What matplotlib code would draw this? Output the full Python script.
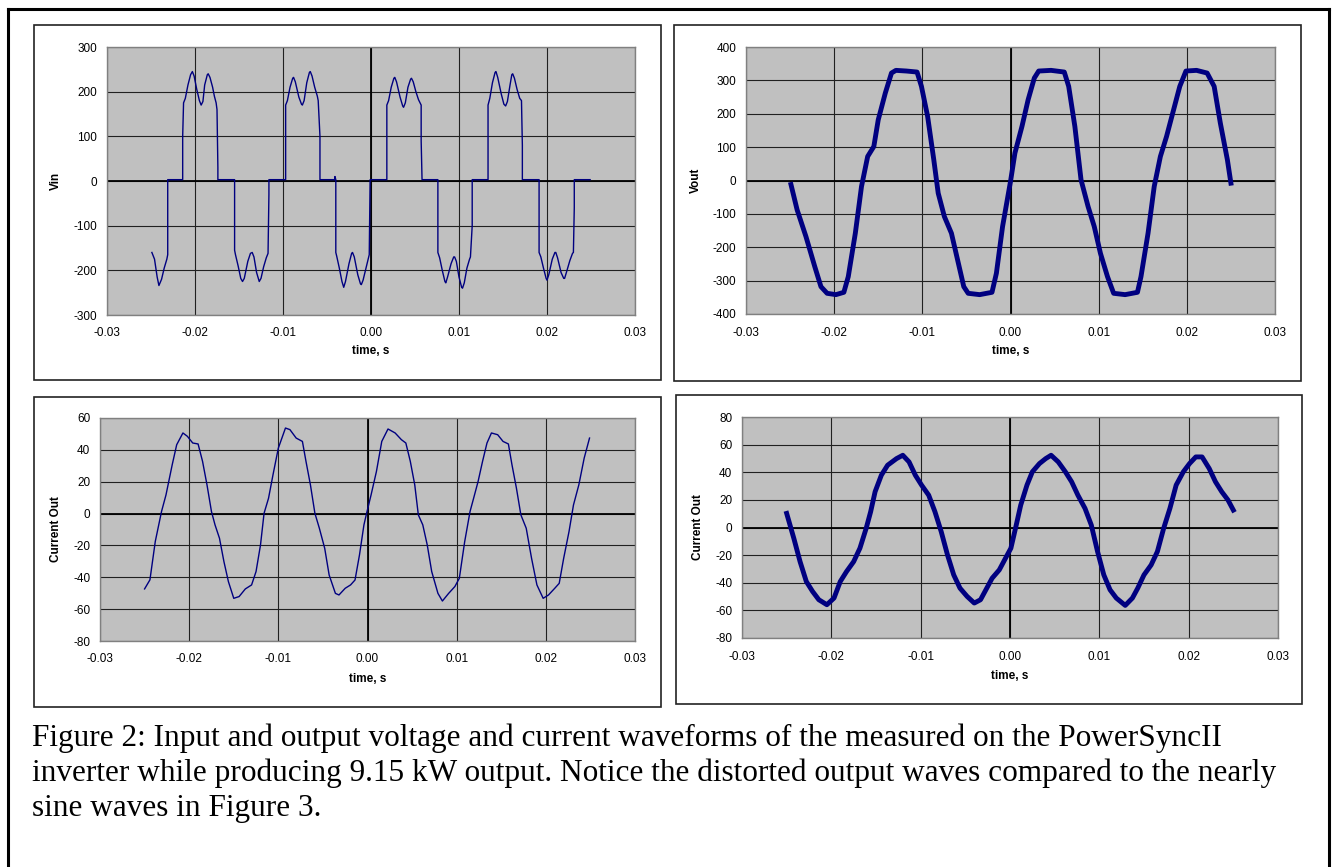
import numpy as np
import matplotlib.pyplot as plt
from matplotlib.patches import Rectangle
from matplotlib.lines import Line2D

plt.rcParams['font.family'] = ['Liberation Sans', 'DejaVu Sans']
plt.rcParams['axes.unicode_minus'] = False

# ---- data (time in s) ----
vin = np.array([
    (-0.0249, -160), (-0.0246, -175), (-0.0243, -215), (-0.0241, -234), (-0.0238, -220),
    (-0.0235, -195), (-0.0232, -175), (-0.0231, -165), (-0.0231, 3), (-0.0214, 3),
    (-0.0214, 100), (-0.0213, 175), (-0.0211, 185), (-0.0208, 215), (-0.0205, 238),
    (-0.0203, 245), (-0.0201, 235), (-0.0198, 205), (-0.0195, 180), (-0.0193, 170),
    (-0.0191, 178), (-0.0189, 215), (-0.0186, 238), (-0.0185, 240), (-0.0183, 232),
    (-0.0180, 210), (-0.0178, 190), (-0.0176, 175), (-0.0175, 160), (-0.0174, 30),
    (-0.0174, 3), (-0.0155, 3),
    (-0.0155, -155), (-0.0154, -165), (-0.0151, -190), (-0.0148, -218), (-0.0146, -225),
    (-0.0144, -218), (-0.0140, -180), (-0.0137, -162), (-0.0135, -160), (-0.0133, -170),
    (-0.0130, -205), (-0.0127, -225), (-0.0125, -218), (-0.0122, -192), (-0.0119, -172),
    (-0.0117, -162), (-0.0116, -30), (-0.0116, 3), (-0.0097, 3),
    (-0.0097, 170), (-0.0095, 180), (-0.0092, 210), (-0.0089, 230), (-0.0088, 232),
    (-0.0086, 222), (-0.0082, 188), (-0.0079, 172), (-0.0078, 170), (-0.0076, 180),
    (-0.0073, 220), (-0.0070, 243), (-0.0069, 245), (-0.0067, 235), (-0.0064, 210),
    (-0.0061, 190), (-0.0060, 180), (-0.0058, 100), (-0.0058, 3), (-0.0041, 3),
    (-0.0041, 10), (-0.0040, 3),
    (-0.0040, -160), (-0.0039, -168), (-0.0036, -195), (-0.0033, -225), (-0.0031, -238),
    (-0.0029, -225), (-0.0025, -185), (-0.0022, -162), (-0.0021, -160), (-0.0019, -170),
    (-0.0015, -210), (-0.0012, -230), (-0.0011, -232), (-0.0009, -222), (-0.0005, -190),
    (-0.0002, -165), (-0.0001, -10), (-0.0001, 3), (0.0018, 3),
    (0.0018, 170), (0.0020, 180), (0.0023, 210), (0.0026, 230), (0.0027, 232),
    (0.0029, 222), (0.0033, 188), (0.0036, 168), (0.0037, 165), (0.0039, 175),
    (0.0042, 210), (0.0045, 228), (0.0046, 230), (0.0048, 222), (0.0051, 200),
    (0.0054, 182), (0.0057, 170), (0.0057, 90), (0.0058, 3), (0.0076, 3),
    (0.0076, -160), (0.0078, -172), (0.0081, -200), (0.0084, -225), (0.0085, -228),
    (0.0087, -215), (0.0091, -185), (0.0094, -170), (0.0095, -170), (0.0097, -180),
    (0.0100, -215), (0.0103, -238), (0.0104, -240), (0.0106, -228), (0.0109, -195),
    (0.0112, -175), (0.0113, -170), (0.0115, -100), (0.0115, 3), (0.0133, 3),
    (0.0133, 170), (0.0135, 185), (0.0138, 220), (0.0141, 243), (0.0142, 245),
    (0.0144, 232), (0.0148, 195), (0.0151, 172), (0.0153, 168), (0.0155, 178),
    (0.0158, 215), (0.0160, 238), (0.0161, 240), (0.0163, 230), (0.0166, 205),
    (0.0169, 185), (0.0171, 180), (0.0172, 80), (0.0172, 3), (0.0191, 3),
    (0.0191, -160), (0.0193, -170), (0.0196, -195), (0.0199, -218), (0.0200, -222),
    (0.0202, -210), (0.0206, -175), (0.0209, -160), (0.0210, -160), (0.0212, -172),
    (0.0216, -205), (0.0219, -218), (0.0220, -218), (0.0222, -205), (0.0226, -178),
    (0.0229, -162), (0.0230, -160), (0.0231, -60), (0.0231, 3), (0.0249, 3),
])

vout = np.array([
    (-0.0249, -12), (-0.0242, -88), (-0.0232, -168), (-0.0222, -258), (-0.0215, -318),
    (-0.0208, -338), (-0.0198, -342), (-0.0189, -335), (-0.0184, -288), (-0.0176, -158),
    (-0.0169, -18), (-0.0162, 72), (-0.0155, 102), (-0.0150, 182), (-0.0142, 262),
    (-0.0135, 322), (-0.0130, 330), (-0.0118, 328), (-0.0106, 325), (-0.0101, 282),
    (-0.0094, 192), (-0.0087, 62), (-0.0082, -38), (-0.0075, -108), (-0.0067, -158),
    (-0.0060, -238), (-0.0053, -318), (-0.0048, -338), (-0.0035, -342), (-0.0021, -335),
    (-0.0016, -278), (-0.0009, -138), (0.0000, -3), (0.0005, 82), (0.0013, 162),
    (0.0020, 242), (0.0027, 307), (0.0032, 328), (0.0046, 330), (0.0061, 325),
    (0.0066, 282), (0.0073, 162), (0.0080, 2), (0.0088, -78), (0.0095, -138),
    (0.0102, -218), (0.0110, -288), (0.0117, -338), (0.0130, -342), (0.0144, -335),
    (0.0148, -288), (0.0156, -158), (0.0163, -18), (0.0170, 72), (0.0177, 132),
    (0.0185, 212), (0.0192, 282), (0.0199, 328), (0.0211, 330), (0.0223, 322),
    (0.0231, 282), (0.0238, 172), (0.0246, 62), (0.0250, -8),
])

iout_a = np.array([
    (-0.0250, -47.3), (-0.0244, -41.6), (-0.0238, -17.5), (-0.0231, 1.3), (-0.0226, 11.7),
    (-0.0219, 30.7), (-0.0214, 43.2), (-0.0207, 50.6), (-0.0202, 48.5), (-0.0196, 44.3),
    (-0.0190, 43.7), (-0.0185, 32.8), (-0.0180, 18.0), (-0.0175, 1.3), (-0.0171, -7.1),
    (-0.0166, -15.5), (-0.0161, -30.2), (-0.0156, -42.7), (-0.0150, -53.2), (-0.0144, -52.1),
    (-0.0137, -47.3), (-0.0130, -44.8), (-0.0125, -36.4), (-0.0120, -19.7), (-0.0116, 0.2),
    (-0.0111, 9.6), (-0.0106, 24.3), (-0.0100, 41.1), (-0.0092, 53.7), (-0.0087, 52.7),
    (-0.0080, 47.4), (-0.0073, 45.3), (-0.0069, 32.8), (-0.0064, 18.0), (-0.0059, 0.2),
    (-0.0054, -9.2), (-0.0048, -21.8), (-0.0043, -38.6), (-0.0036, -50.1), (-0.0032, -51.1),
    (-0.0025, -46.9), (-0.0019, -44.8), (-0.0014, -41.7), (-0.0009, -26.0), (-0.0004, -7.1),
    (-0.0001, 0.2), (0.0004, 11.7), (0.0010, 26.4), (0.0016, 45.3), (0.0023, 53.1),
    (0.0031, 50.6), (0.0038, 46.4), (0.0043, 44.3), (0.0048, 32.8), (0.0053, 18.0),
    (0.0057, -0.8), (0.0062, -7.1), (0.0067, -19.7), (0.0072, -36.4), (0.0079, -50.1),
    (0.0084, -54.9), (0.0091, -50.1), (0.0098, -45.8), (0.0103, -40.6), (0.0109, -17.6),
    (0.0115, 1.3), (0.0119, 9.6), (0.0124, 20.1), (0.0129, 32.7), (0.0134, 44.3),
    (0.0139, 50.6), (0.0146, 49.5), (0.0152, 45.3), (0.0158, 43.7), (0.0162, 30.7),
    (0.0167, 16.0), (0.0172, -0.8), (0.0178, -9.2), (0.0184, -28.1), (0.0190, -44.8),
    (0.0197, -53.2), (0.0203, -51.1), (0.0210, -46.9), (0.0215, -43.8), (0.0220, -28.1),
    (0.0226, -11.3), (0.0231, 5.4), (0.0237, 18.0), (0.0243, 34.8), (0.0249, 47.4),
])

iout_b = np.array([
    (-0.0250, 10.2), (-0.0242, -7.8), (-0.0235, -24.7), (-0.0228, -39.1), (-0.0221, -46.3),
    (-0.0214, -52.3), (-0.0205, -55.9), (-0.0197, -51.1), (-0.0190, -39.1), (-0.0183, -31.9),
    (-0.0175, -24.7), (-0.0168, -15.0), (-0.0161, -0.6), (-0.0156, 11.4), (-0.0151, 25.9),
    (-0.0144, 37.9), (-0.0137, 45.1), (-0.0127, 49.9), (-0.0120, 52.3), (-0.0113, 47.5),
    (-0.0106, 37.9), (-0.0099, 30.7), (-0.0091, 23.4), (-0.0084, 11.4), (-0.0077, -3.0),
    (-0.0070, -19.8), (-0.0063, -34.3), (-0.0056, -43.9), (-0.0048, -49.9), (-0.0040, -54.7),
    (-0.0033, -52.3), (-0.0026, -43.9), (-0.0020, -36.7), (-0.0012, -30.7), (-0.0005, -22.2),
    (0.0001, -15.0), (0.0007, 1.8), (0.0012, 16.2), (0.0019, 30.7), (0.0025, 40.3),
    (0.0033, 46.3), (0.0040, 49.9), (0.0046, 52.3), (0.0054, 47.5), (0.0062, 40.3),
    (0.0069, 33.1), (0.0076, 23.4), (0.0084, 13.8), (0.0091, 1.8), (0.0098, -17.4),
    (0.0105, -34.3), (0.0112, -45.1), (0.0119, -51.1), (0.0129, -56.4), (0.0137, -51.1),
    (0.0143, -43.9), (0.0150, -34.3), (0.0158, -27.1), (0.0165, -17.4), (0.0172, -0.6),
    (0.0179, 13.8), (0.0186, 30.7), (0.0194, 40.3), (0.0201, 46.3), (0.0208, 51.1),
    (0.0215, 51.1), (0.0223, 42.7), (0.0230, 33.1), (0.0237, 25.9), (0.0244, 19.9),
    (0.0250, 12.6),
])

x_ticks = [-0.03, -0.02, -0.01, 0.0, 0.01, 0.02, 0.03]
vin_ticks = [-300, -200, -100, 0, 100, 200, 300]
vout_ticks = [-400, -300, -200, -100, 0, 100, 200, 300, 400]
ia_ticks = [-80, -60, -40, -20, 0, 20, 40, 60]
ib_ticks = [-80, -60, -40, -20, 0, 20, 40, 60, 80]

caption = [
    "Figure 2: Input and output voltage and current waveforms of the measured on the PowerSyncII",
    "inverter while producing 9.15 kW output. Notice the distorted output waves compared to the nearly",
    "sine waves in Figure 3.",
]

W, H = 1333, 867
fig = plt.figure(figsize=(W / 100, H / 100), dpi=100)


def rect(x0, y0, x1, y1):
    return [x0 / W, 1 - y1 / H, (x1 - x0) / W, (y1 - y0) / H]


# outer frame (open at the bottom)
for xs, ys in [((8, 8), (9, H)), ((8, 1329), (9, 9)), ((1329, 1329), (9, H))]:
    fig.add_artist(Line2D([x / W for x in xs], [1 - y / H for y in ys],
                          color='black', lw=2.2, transform=fig.transFigure))

# chart boxes
for b in [(34, 25, 661, 380), (674, 25, 1301, 381), (34, 397, 661, 707), (676, 395, 1302, 704)]:
    r = rect(*b)
    fig.add_artist(Rectangle((r[0], r[1]), r[2], r[3], transform=fig.transFigure,
                             facecolor='white', edgecolor='#222222', lw=1.2, zorder=0))

panels = [
    (rect(107, 47, 635, 315), vin, vin_ticks, 'Vin', 1.0, (-0.097, -0.135)),
    (rect(746, 47, 1275, 314), vout, vout_ticks, 'Vout', 3.5, (-0.095, -0.14)),
    (rect(100, 418, 635, 641), iout_a, ia_ticks, 'Current Out', 1.0, (-0.083, -0.17)),
    (rect(742, 417, 1278, 638), iout_b, ib_ticks, 'Current Out', 3.5, (-0.082, -0.17)),
]

for pos, d, yt, ylab, lw, (lx, ly) in panels:
    ax = fig.add_axes(pos)
    ax.set_facecolor('#C0C0C0')
    ax.plot(d[:, 0], d[:, 1], color='#000080', lw=lw, solid_joinstyle='round', zorder=3)
    ax.set_xlim(-0.03, 0.03)
    ax.set_ylim(yt[0], yt[-1])
    ax.set_xticks(x_ticks)
    ax.set_xticklabels(['%.2f' % v for v in x_ticks])
    ax.set_yticks(yt)
    ax.grid(True, color='#202020', lw=0.8, zorder=1)
    ax.set_axisbelow(True)
    ax.axhline(0, color='black', lw=1.3, zorder=2)
    ax.axvline(0, color='black', lw=1.3, zorder=2)
    for s in ax.spines.values():
        s.set_color('#808080')
        s.set_linewidth(1.0)
    ax.tick_params(length=0, labelsize=8.5, pad=7)
    ax.tick_params(axis='x', pad=9)
    ax.set_xlabel('time, s', fontsize=8.5, fontweight='bold', va='center')
    ax.set_ylabel(ylab, fontsize=8.5, fontweight='bold', va='center')
    ax.xaxis.set_label_coords(0.5, ly)
    ax.yaxis.set_label_coords(lx, 0.5)

for i, line in enumerate(caption):
    fig.text(32 / W, 1 - (746 + 35 * i) / H, line, family=['Liberation Serif', 'DejaVu Serif'],
             fontsize=22.5, va='baseline', ha='left')

fig.savefig('out.png', dpi=100)
